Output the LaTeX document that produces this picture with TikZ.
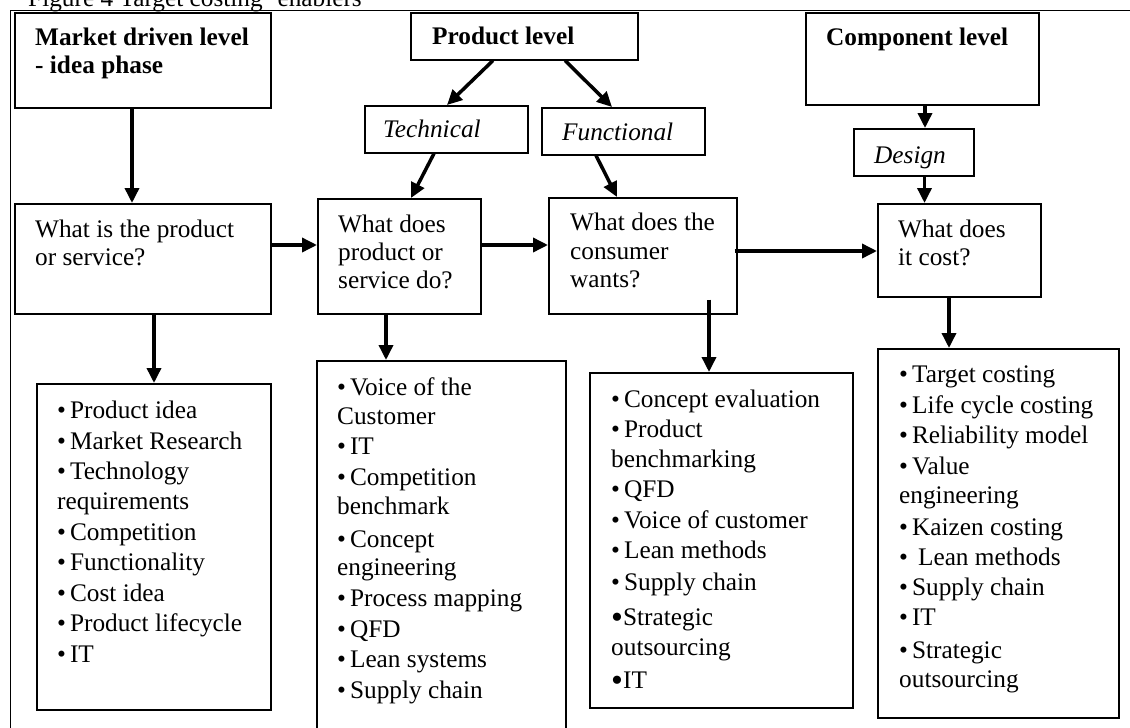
\documentclass[tikz,border=0pt]{standalone}
\usepackage{fontspec}
\setmainfont{Liberation Serif}
\usetikzlibrary{arrows.meta,calc}

% list bullets
\newcommand\lbul{\textbullet\kern4pt}
\newcommand\lbigbul{\raisebox{-3pt}{\fontsize{34}{34}\selectfont\textbullet}}

\begin{document}
\begin{tikzpicture}[x=1pt,y=-1pt,
  frameline/.style={line width=1.6pt},
  box/.style={draw, line width=1.5pt, inner sep=0pt, anchor=north west},
  txt/.style={anchor=base west, inner sep=0pt, font=\fontsize{25.3}{30}\selectfont},
  head/.style={txt, font=\fontsize{25.3}{30}\selectfont\bfseries},
  sub/.style={txt, font=\fontsize{25.3}{30}\selectfont\itshape},
  arr/.style={line width=3.5pt, -{Triangle[length=15pt,width=14pt]}},
  link/.style={line width=3.5pt},
]
\useasboundingbox (0,0) rectangle (1130,728);
\clip (0,0) rectangle (1130,728);

% caption and outer frame
\node[txt] (cap) at (28,6.5) {Figure 4 Target costing ‘enablers’};
\draw[frameline] (10.5,740) -- (10.5,10.5) -- (1140,10.5);

% level boxes
\node[box, minimum width=256, minimum height=95] (mk) at (14,12) {};
\node[box, minimum width=227, minimum height=47] (pl) at (410,12) {};
\node[box, minimum width=233, minimum height=92] (cl) at (805,12) {};
\node[head] (mk1) at (35,45) {Market driven level};
\node[head] (mk2) at (35,73) {- idea phase};
\node[head] (plt) at (432,44) {Product level};
\node[head] (clt) at (826,45) {Component level};

% aspect boxes
\node[box, minimum width=163, minimum height=47] (tech) at (364,105) {};
\node[box, minimum width=163, minimum height=47] (func) at (541,107) {};
\node[box, minimum width=120, minimum height=47] (des) at (853,128) {};
\node[sub] (techt) at (383,137) {Technical};
\node[sub] (funct) at (562,140) {Functional};
\node[sub] (dest) at (874,163) {Design};

% question boxes
\node[box, minimum width=256, minimum height=110] (q1) at (14,203) {};
\node[box, minimum width=163, minimum height=115] (q2) at (317,198) {};
\node[box, minimum width=188, minimum height=116] (q3) at (548,197) {};
\node[box, minimum width=163, minimum height=93] (q4) at (877,203) {};
\node[txt] (q1a) at (35,237) {What is the product};
\node[txt] (q1b) at (35,265) {or service?};
\node[txt] (q2a) at (338,232) {What does};
\node[txt] (q2b) at (338,260) {product or};
\node[txt] (q2c) at (338,288) {service do?};
\node[txt] (q3a) at (570,230) {What does the};
\node[txt] (q3b) at (570,259) {consumer};
\node[txt] (q3c) at (570,287) {wants?};
\node[txt] (q4a) at (898,237) {What does};
\node[txt] (q4b) at (898,265) {it cost?};

% enabler lists
\node[box, minimum width=234, minimum height=326] (l1) at (36,383) {};
\node[box, minimum width=249, minimum height=400] (l2) at (316,360) {};
\node[box, minimum width=263, minimum height=335] (l3) at (589,372) {};
\node[box, minimum width=241, minimum height=369] (l4) at (877,348) {};

\foreach \y/\s [count=\i] in {418/{\lbul Product idea}, 449/{\lbul Market Research},
  479/{\lbul Technology}, 509/{requirements}, 540/{\lbul Competition},
  570/{\lbul Functionality}, 601/{\lbul Cost idea}, 631/{\lbul Product lifecycle},
  662/{\lbul IT}}
  \node[txt] (la\i) at (57,\y) {\s};

\foreach \y/\s [count=\i] in {395/{\lbul Voice of the}, 424/{Customer}, 454/{\lbul IT},
  485/{\lbul Competition}, 514/{benchmark}, 547/{\lbul Concept}, 575/{engineering},
  606/{\lbul Process mapping}, 637/{\lbul QFD}, 667/{\lbul Lean systems},
  698/{\lbul Supply chain}}
  \node[txt] (lb\i) at (337,\y) {\s};

\foreach \y/\s [count=\i] in {407/{\lbul Concept evaluation}, 437/{\lbul Product},
  467/{benchmarking}, 497/{\lbul QFD}, 528/{\lbul Voice of customer},
  558/{\lbul Lean methods}, 590/{\lbul Supply chain}, 625/{\lbigbul Strategic},
  655/{outsourcing}, 688/{\lbigbul IT}}
  \node[txt] (lc\i) at (611,\y) {\s};

\foreach \y/\s [count=\i] in {382/{\lbul Target costing}, 413/{\lbul Life cycle costing},
  443/{\lbul Reliability model}, 474/{\lbul Value}, 503/{engineering},
  535/{\lbul Kaizen costing}, 565/{\lbul\kern6pt Lean methods}, 595/{\lbul Supply chain},
  625/{\lbul IT}, 658/{\lbul Strategic}, 687/{outsourcing}}
  \node[txt] (ld\i) at (899,\y) {\s};

% connectors
\draw[arr] ($(mk.south west)+(118,0)$) -- ($(q1.north west)+(118,0)$);
\draw[arr] ($(pl.south west)+(83,0)$) -- ($(tech.north west)+(83,0)$);
\draw[arr] ($(pl.south west)+(155,0)$) -- ($(func.north west)+(71,0)$);
\draw[arr] ($(tech.south west)+(70,0)$) -- ($(q2.north west)+(94,0)$);
\draw[arr] ($(func.south west)+(55,0)$) -- ($(q3.north west)+(69,0)$);
\draw[arr] ($(cl.south west)+(120,0)$) -- ($(des.north west)+(72,0)$);
\draw[arr] ($(des.south west)+(71.5,0)$) -- ($(q4.north west)+(47.5,0)$);
\draw[arr] ($(q1.north east)+(0,42)$) -- ($(q2.north west)+(0,47)$);
\draw[arr] ($(q2.north east)+(0,47)$) -- ($(q3.north west)+(0,48)$);
\draw[arr] ($(q3.north east)+(-3,54)$) -- ($(q4.north west)+(0,48)$);
\draw[arr] ($(q1.south west)+(140,0)$) -- ($(l1.north west)+(118,0)$);
\draw[arr] ($(q2.south west)+(69,0)$) -- ($(l2.north west)+(70,0)$);
\draw[arr] ($(q3.south west)+(161,-15)$) -- ($(l3.north west)+(120,0)$);
\draw[arr] ($(q4.south west)+(72,0)$) -- ($(l4.north west)+(72,0)$);
\end{tikzpicture}
\end{document}
